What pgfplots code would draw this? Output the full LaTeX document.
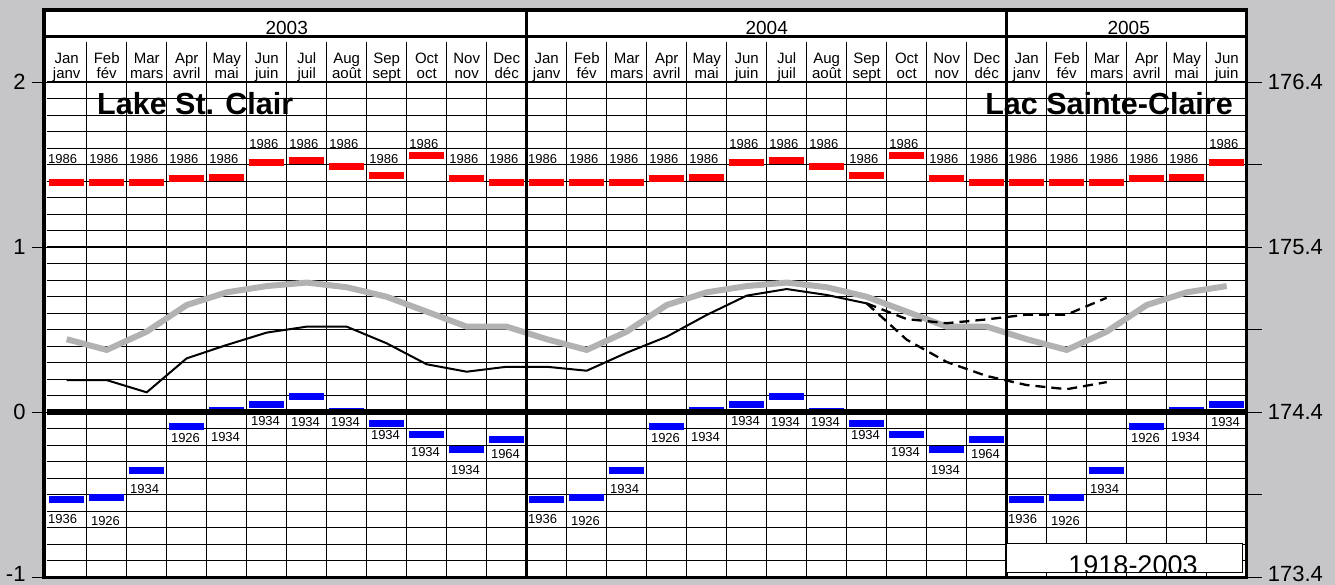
\documentclass[border=0pt]{standalone}
\usepackage{pgfplots}
\pgfplotsset{compat=1.18}
\usepackage{pgfplotstable}
\usepackage{fontspec}
\setmainfont{Liberation Sans}
\definecolor{bggray}{RGB}{198,198,200}
\definecolor{avggray}{RGB}{178,178,178}
\definecolor{recred}{RGB}{255,0,0}
\definecolor{recblue}{RGB}{0,0,255}

% record highs (hi) and lows (lo), metres relative to chart datum
\pgfplotstableread{
x hi lo
0.5 1.394 -0.527
1.5 1.394 -0.518
2.5 1.394 -0.355
3.5 1.415 -0.085
4.5 1.421 0.013
5.5 1.515 0.048
6.5 1.527 0.095
7.5 1.491 0.006
8.5 1.436 -0.067
9.5 1.558 -0.133
10.5 1.415 -0.227
11.5 1.394 -0.164
12.5 1.394 -0.527
13.5 1.394 -0.518
14.5 1.394 -0.355
15.5 1.415 -0.085
16.5 1.421 0.013
17.5 1.515 0.048
18.5 1.527 0.095
19.5 1.491 0.006
20.5 1.436 -0.067
21.5 1.558 -0.133
22.5 1.415 -0.227
23.5 1.394 -0.164
24.5 1.394 -0.527
25.5 1.394 -0.518
26.5 1.394 -0.355
27.5 1.415 -0.085
28.5 1.421 0.013
29.5 1.515 0.048
}\records

% long-term average
\pgfplotstableread{
x y
0.5 0.443
1.5 0.378
2.5 0.489
3.5 0.650
4.5 0.727
5.5 0.765
6.5 0.786
7.5 0.758
8.5 0.700
9.5 0.610
10.5 0.519
11.5 0.519
12.5 0.443
13.5 0.378
14.5 0.489
15.5 0.650
16.5 0.727
17.5 0.765
18.5 0.786
19.5 0.758
20.5 0.700
21.5 0.610
22.5 0.519
23.5 0.519
24.5 0.443
25.5 0.378
26.5 0.489
27.5 0.650
28.5 0.727
29.5 0.765
}\avgtab

% recorded levels
\pgfplotstableread{
x y
0.5 0.195
1.5 0.195
2.5 0.121
3.5 0.327
4.5 0.408
5.5 0.483
6.5 0.519
7.5 0.519
8.5 0.418
9.5 0.291
10.5 0.246
11.5 0.276
12.5 0.276
13.5 0.252
14.5 0.361
15.5 0.458
16.5 0.590
17.5 0.707
18.5 0.747
19.5 0.711
20.5 0.660
}\acttab

% forecast bounds
\pgfplotstableread{
x y
20.5 0.660
21.5 0.565
22.5 0.540
23.5 0.563
24.5 0.592
25.5 0.592
26.5 0.694
}\hightab
\pgfplotstableread{
x y
20.5 0.660
21.5 0.440
22.5 0.305
23.5 0.220
24.5 0.165
25.5 0.140
26.5 0.183
}\lowtab

% year labels of the records
\pgfplotstableread{
x y t
0.40 1.509 1986
1.43 1.509 1986
2.43 1.509 1986
3.43 1.509 1986
4.43 1.509 1986
5.43 1.600 1986
6.43 1.600 1986
7.43 1.600 1986
8.43 1.509 1986
9.43 1.600 1986
10.43 1.509 1986
11.43 1.509 1986
12.40 1.509 1986
13.43 1.509 1986
14.43 1.509 1986
15.43 1.509 1986
16.43 1.509 1986
17.43 1.600 1986
18.43 1.600 1986
19.43 1.600 1986
20.43 1.509 1986
21.43 1.600 1986
22.43 1.509 1986
23.43 1.509 1986
24.40 1.509 1986
25.43 1.509 1986
26.43 1.509 1986
27.43 1.509 1986
28.43 1.509 1986
29.43 1.600 1986
}\hilab
\pgfplotstableread{
x y t
0.40 -0.673 1936
1.47 -0.687 1926
2.45 -0.495 1934
3.47 -0.182 1926
4.47 -0.178 1934
5.47 -0.081 1934
6.47 -0.087 1934
7.47 -0.087 1934
8.47 -0.162 1934
9.47 -0.269 1934
10.47 -0.380 1934
11.47 -0.283 1964
12.40 -0.673 1936
13.47 -0.687 1926
14.45 -0.495 1934
15.47 -0.182 1926
16.47 -0.178 1934
17.47 -0.081 1934
18.47 -0.087 1934
19.47 -0.087 1934
20.47 -0.162 1934
21.47 -0.269 1934
22.47 -0.380 1934
23.47 -0.283 1964
24.40 -0.673 1936
25.47 -0.687 1926
26.45 -0.495 1934
27.47 -0.182 1926
28.47 -0.178 1934
29.47 -0.085 1934
}\lolab

\begin{document}
\begin{tikzpicture}[x=1pt,y=1pt]
\fill[bggray] (-46.7,-7.7) rectangle (1288.3,577.3);
\fill[white] (-2.7,0) rectangle (1200,567.3);
\begin{axis}[
  at={(0pt,0pt)}, anchor=south west,
  scale only axis, width=1200pt, height=495pt,
  xmin=0, xmax=30, ymin=-1, ymax=2,
  clip=false,
  axis line style={draw=none},
  xtick=\empty,
  ytick={0,1,2}, minor ytick={-0.9,-0.8,-0.7,-0.6,-0.5,-0.4,-0.3,-0.2,-0.1,0.1,0.2,0.3,0.4,0.5,0.6,0.7,0.8,0.9,1.1,1.2,1.3,1.4,1.5,1.6,1.7,1.8,1.9},
  extra y ticks={-1}, extra y tick style={yticklabel style={yshift=3pt}},
  ymajorgrids, yminorgrids,
  major y grid style={black, line width=1pt},
  minor y grid style={black, line width=1pt},
  ytick pos=left, tick align=outside,
  major tick length=15pt, minor tick length=0pt,
  ytick style={black, line width=1.2pt},
  yticklabel style={font=\fontsize{22}{22}\selectfont, inner sep=6pt},
  /pgf/number format/assume math mode=true,
]
\pgfplotsinvokeforeach{1,...,29}{\draw[black, line width=1.2pt] (axis cs:#1,-1) -- (axis cs:#1,2);}
\addplot[avggray, line width=6pt] table[x=x,y=y] {\avgtab};
\addplot[black, line width=2pt] table[x=x,y=y] {\acttab};
\addplot[black, line width=2.3pt, dash pattern=on 10pt off 6pt] table[x=x,y=y] {\hightab};
\addplot[black, line width=2.3pt, dash pattern=on 10pt off 6pt] table[x=x,y=y] {\lowtab};
\addplot[draw=none, no markers, error bars/.cd, x dir=both, x fixed=0.443, error mark=none,
  error bar style={draw=recred, line width=7pt}] table[x=x,y=hi] {\records};
\addplot[draw=none, no markers, error bars/.cd, x dir=both, x fixed=0.443, error mark=none,
  error bar style={draw=recblue, line width=7pt}] table[x=x,y=lo] {\records};
\addplot[draw=none, no markers, nodes near coords, point meta=explicit symbolic,
  nodes near coords style={anchor=base, inner sep=0pt, font=\fontsize{13}{13}\selectfont, text=black}]
  table[x=x,y=y,meta=t] {\hilab};
\addplot[draw=none, no markers, nodes near coords, point meta=explicit symbolic,
  nodes near coords style={anchor=base, inner sep=0pt, font=\fontsize{13}{13}\selectfont, text=black}]
  table[x=x,y=y,meta=t] {\lolab};
\end{axis}
\begin{axis}[
  at={(0pt,0pt)}, anchor=south west,
  scale only axis, width=1200pt, height=495pt,
  xmin=0, xmax=30, ymin=173.4, ymax=176.4,
  axis line style={draw=none}, xtick=\empty,
  ytick={174.4,175.4,176.4},
  minor ytick={173.9,174.9,175.9},
  extra y ticks={173.4}, extra y tick style={yticklabel style={yshift=3pt}},
  ytick pos=right, tick align=outside, major tick length=15pt, minor tick length=15pt,
  ytick style={black, line width=1.2pt},
  minor y tick style={black, line width=1.2pt},
  yticklabel style={font=\fontsize{22}{22}\selectfont, inner sep=6pt},
  /pgf/number format/.cd, fixed, precision=1, fixed zerofill, assume math mode=true,
]
\end{axis}
% header
\foreach \i in {1,...,29} \draw[black, line width=1.2pt] (40*\i,495) -- (40*\i,535.6);
\foreach \i/\e/\f in {0/Jan/janv,1/Feb/fév,2/Mar/mars,3/Apr/avril,4/May/mai,5/Jun/juin,
  6/Jul/juil,7/Aug/août,8/Sep/sept,9/Oct/oct,10/Nov/nov,11/Dec/déc,
  12/Jan/janv,13/Feb/fév,14/Mar/mars,15/Apr/avril,16/May/mai,17/Jun/juin,
  18/Jul/juil,19/Aug/août,20/Sep/sept,21/Oct/oct,22/Nov/nov,23/Dec/déc,
  24/Jan/janv,25/Feb/fév,26/Mar/mars,27/Apr/avril,28/May/mai,29/Jun/juin} {
  \node[anchor=base, inner sep=0pt, font=\fontsize{15}{15}\selectfont] at (40*\i+20,513.3) {\e};
  \node[anchor=base, inner sep=0pt, font=\fontsize{15}{15}\selectfont] at (40*\i+20,498.3) {\f};
}
\node[anchor=base, inner sep=0pt, font=\fontsize{19}{19}\selectfont] at (240,542.6) {2003};
\node[anchor=base, inner sep=0pt, font=\fontsize{19}{19}\selectfont] at (720,542.6) {2004};
\node[anchor=base, inner sep=0pt, font=\fontsize{19}{19}\selectfont] at (1082,542.6) {2005};
% frame and heavy lines
\draw[black, line width=2.7pt] (-2.7,540.6) -- (1200,540.6);
\draw[black, line width=2pt] (0,495) -- (1200,495);
\draw[black, line width=2.2pt] (0,330) -- (1200,330);
\draw[black, line width=5.7pt] (0,165) -- (1201.6,165);
\draw[black, line width=2.7pt] (480,0) -- (480,567.3);
\draw[black, line width=2.7pt] (960,0) -- (960,567.3);
\draw[black, line width=2.5pt] (1200,0) -- (1200,567.3);
\draw[black, line width=3.3pt] (-4.7,0) -- (1201.2,0);
\draw[black, line width=3.3pt] (-4.7,567.3) -- (1201.2,567.3);
\draw[black, line width=4pt] (-2.7,-1.6) -- (-2.7,568.9);
% titles
\node[anchor=base west, inner sep=0pt, font=\bfseries\fontsize{30.5}{30.5}\selectfont] at (50.3,462.3) {Lake St. Clair};
\node[anchor=base east, inner sep=0pt, font=\bfseries\fontsize{30.5}{30.5}\selectfont] at (1186.3,462.3) {Lac Sainte-Claire};
% period box
\filldraw[fill=white, draw=black, line width=1pt] (959.3,4.3) rectangle (1196,33.3);
\begin{scope}
\clip (959.8,4.8) rectangle (1195.5,32.8);
\node[anchor=base, inner sep=0pt, font=\fontsize{27}{27}\selectfont] at (1086.3,2.3) {1918-2003};
\end{scope}
\pgfresetboundingbox
\path[use as bounding box] (-46.7,-7.7) rectangle (1288.3,577.3);
\end{tikzpicture}
\end{document}
